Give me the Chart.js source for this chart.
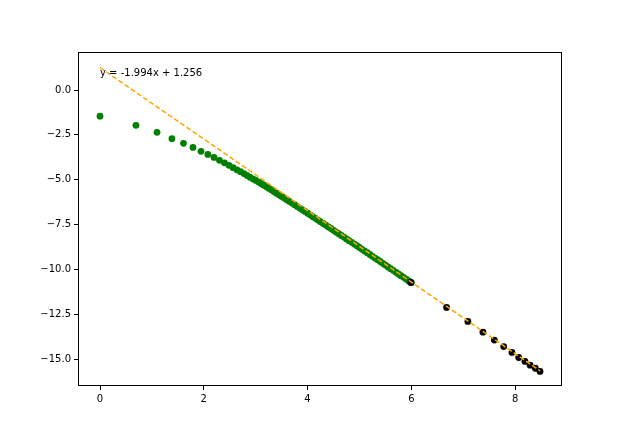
<!DOCTYPE html>
<html>
<head>
<meta charset="utf-8">
<script src="https://cdn.jsdelivr.net/npm/chart.js@4.4.1/dist/chart.umd.min.js"></script>
<style>
  html, body { margin: 0; padding: 0; background: #fff; }
  #wrap { width: 624px; height: 434px; }
</style>
</head>
<body>
<div id="wrap"><canvas id="plot"></canvas></div>
<script>
// green points: x = ln(k), the dense tail
const greenX = [0, 0.693, 1.099, 1.386, 1.609, 1.792, 1.946, 2.079, 2.197, 2.303,
  2.398, 2.485, 2.565, 2.639, 2.708, 2.773, 2.833, 2.890, 2.944, 2.996,
  3.05, 3.10, 3.15, 3.20, 3.25, 3.30, 3.35, 3.40, 3.45, 3.50,
  3.55, 3.60, 3.65, 3.70, 3.75, 3.80, 3.85, 3.90, 3.95, 4.00,
  4.05, 4.10, 4.15, 4.20, 4.25, 4.30, 4.35, 4.40, 4.45, 4.50,
  4.55, 4.60, 4.65, 4.70, 4.75, 4.80, 4.85, 4.90, 4.95, 5.00,
  5.05, 5.10, 5.15, 5.20, 5.25, 5.30, 5.35, 5.40, 5.45, 5.50,
  5.55, 5.60, 5.65, 5.70, 5.75, 5.80, 5.85, 5.90, 5.95, 6.00];
const greenY = [-1.46, -1.97, -2.36, -2.71, -2.97, -3.20, -3.42, -3.59, -3.76, -3.92,
  -4.06, -4.20, -4.33, -4.45, -4.55, -4.66, -4.76, -4.86, -4.95, -5.03,
  -5.12, -5.21, -5.29, -5.38, -5.47, -5.56, -5.66, -5.75, -5.84, -5.93,
  -6.02, -6.11, -6.21, -6.30, -6.39, -6.49, -6.58, -6.68, -6.77, -6.87,
  -6.96, -7.06, -7.15, -7.25, -7.34, -7.44, -7.53, -7.63, -7.72, -7.82,
  -7.92, -8.01, -8.11, -8.20, -8.30, -8.40, -8.49, -8.59, -8.68, -8.78,
  -8.88, -8.98, -9.07, -9.17, -9.27, -9.37, -9.46, -9.56, -9.66, -9.76,
  -9.86, -9.96, -10.05, -10.15, -10.25, -10.35, -10.44, -10.54, -10.64, -10.74];

// black points
const blackX = [5.99, 6.68, 7.09, 7.38, 7.60, 7.78, 7.94, 8.07, 8.19, 8.29, 8.39, 8.48];
const blackY = [-10.73, -12.12, -12.90, -13.50, -13.94, -14.30, -14.63, -14.91, -15.13, -15.34, -15.51, -15.69];

// fitted line y = -1.994x + 1.256, drawn between its two ends
const trendX = [0, 8.48];
const trendY = [1.256, -15.653];
const trendLabel = 'y = -1.994x + 1.256';

const xTicks = [0, 2, 4, 6, 8];
const yTicks = [0, -2.5, -5, -7.5, -10, -12.5, -15];

const pts = (xs, ys) => xs.map((x, i) => ({ x: x, y: ys[i] }));

const FONT = { family: 'DejaVu Sans', size: 10 };

// box round the axes + the equation text
const frame = {
  id: 'frame',
  afterDatasetsDraw(chart) {
    const { ctx, chartArea: a, scales } = chart;
    ctx.save();
    ctx.fillStyle = '#000';
    ctx.font = '10px "DejaVu Sans"';
    ctx.textBaseline = 'alphabetic';
    ctx.textAlign = 'left';
    ctx.fillText(trendLabel, scales.x.getPixelForValue(0), scales.y.getPixelForValue(0.78));
    ctx.strokeStyle = '#000';
    ctx.lineWidth = 1;
    const l = Math.round(a.left) + 0.5, t = Math.round(a.top) + 0.5;
    const r = Math.round(a.right) - 0.5, b = Math.round(a.bottom) - 0.5;
    ctx.strokeRect(l, t, r - l, b - t);
    ctx.restore();
  }
};

new Chart(document.getElementById('plot'), {
  type: 'scatter',
  data: {
    datasets: [
      { data: pts(greenX, greenY), backgroundColor: '#008000', borderColor: '#008000',
        pointRadius: 3.4, borderWidth: 0, order: 3 },
      { data: pts(blackX, blackY), backgroundColor: '#000', borderColor: '#000',
        pointRadius: 3.4, borderWidth: 0, order: 2 },
      { type: 'line', data: pts(trendX, trendY), borderColor: '#FFA500', borderWidth: 1.5,
        borderDash: [5, 2.5], pointRadius: 0, fill: false, order: 1 }
    ]
  },
  options: {
    responsive: true,
    maintainAspectRatio: false,
    animation: false,
    events: [],
    layout: { padding: { left: 0, top: 52, right: 62, bottom: 0 } },
    plugins: { legend: { display: false }, tooltip: { enabled: false } },
    scales: {
      x: {
        type: 'linear', min: -0.424, max: 8.904,
        afterBuildTicks: s => { s.ticks = xTicks.map(v => ({ value: v })); },
        afterFit: s => { s.height = 48; },
        grid: { drawOnChartArea: false, tickLength: 4, tickColor: '#000' },
        border: { display: false },
        ticks: { font: FONT, color: '#000', padding: 3, maxRotation: 0,
          callback: v => String(v) }
      },
      y: {
        type: 'linear', min: -16.5, max: 2.12,
        afterBuildTicks: s => { s.ticks = yTicks.map(v => ({ value: v })); },
        afterFit: s => { s.width = 78; },
        grid: { drawOnChartArea: false, tickLength: 4, tickColor: '#000' },
        border: { display: false },
        ticks: { font: FONT, color: '#000', padding: 3,
          callback: v => (v < 0 ? '\u2212' : '') + Math.abs(v).toFixed(1) }
      }
    }
  },
  plugins: [frame]
});
</script>
</body>
</html>
